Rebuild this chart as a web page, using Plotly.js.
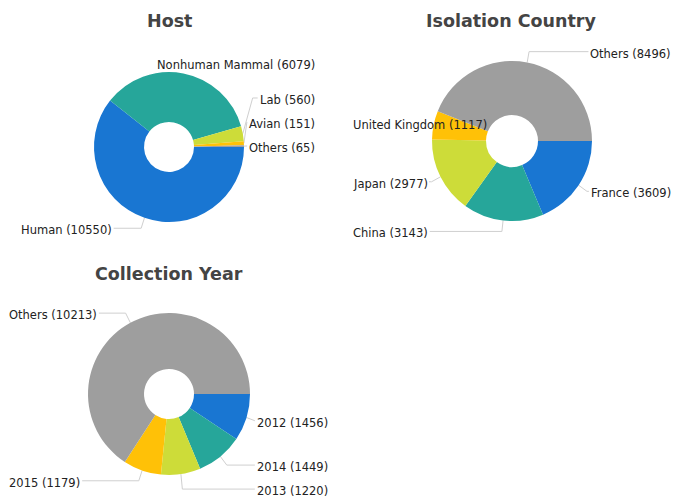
<!DOCTYPE html>
<html>
<head>
<meta charset="utf-8">
<script src="https://cdn.plot.ly/plotly-3.0.1.min.js"></script>
<style>html,body{margin:0;padding:0;background:#fff;}#chart{width:678px;height:498px;}</style>
</head>
<body>
<div id="chart"></div>
<script>
// ---- data ----
const hostLabels = ['Human', 'Nonhuman Mammal', 'Lab', 'Avian', 'Others'];
const hostValues = [10550, 6079, 560, 151, 65];
const countryLabels = ['France', 'China', 'Japan', 'United Kingdom', 'Others'];
const countryValues = [3609, 3143, 2977, 1117, 8496];
const yearLabels = ['2012', '2014', '2013', '2015', 'Others'];
const yearValues = [1456, 1449, 1220, 1179, 10213];
const sliceColors = ['#1976d2', '#26a69a', '#cddc39', '#ffc107', '#9e9e9e'];

// ---- layout ----
const W = 678, H = 498;
const FONT = 'DejaVu Sans';
const LABEL_SIZE = 11.5;
const charts = [
  {title: 'Host', labels: hostLabels, values: hostValues, cx: 169, cy: 147, r: 75, hole: 25, left: 20, right: 316, tx: 169, ty: 21},
  {title: 'Isolation Country', labels: countryLabels, values: countryValues, cx: 512, cy: 141, r: 80, hole: 26, left: 352, right: 672, tx: 511, ty: 21},
  {title: 'Collection Year', labels: yearLabels, values: yearValues, cx: 169, cy: 394, r: 81, hole: 25, left: 8, right: 329, tx: 169, ty: 274}
];

const ctx = document.createElement('canvas').getContext('2d');
ctx.font = LABEL_SIZE + 'px "' + FONT + '"';
const px = x => x / W;
const py = y => 1 - y / H;

const data = [], annotations = [], shapes = [];
const lineStyle = {color: '#cfcfcf', width: 1};

charts.forEach(c => {
  data.push({
    type: 'pie', labels: c.labels, values: c.values, sort: false,
    direction: 'clockwise', rotation: 90, hole: c.hole / c.r,
    marker: {colors: sliceColors, line: {width: 0}},
    textinfo: 'none', hoverinfo: 'label+value+percent',
    domain: {x: [px(c.cx - c.r), px(c.cx + c.r)], y: [py(c.cy + c.r), py(c.cy - c.r)]}
  });
  annotations.push({
    text: '<b>' + c.title + '</b>', x: px(c.tx), y: py(c.ty), xref: 'paper', yref: 'paper',
    xanchor: 'center', yanchor: 'middle', showarrow: false,
    font: {family: FONT, size: 17.5, color: '#444444'}
  });
  const total = c.values.reduce((a, b) => a + b, 0);
  let cum = 0;
  const items = c.values.map((v, i) => {
    const mid = (cum + v / 2) / total * 2 * Math.PI; // clockwise from 3 o'clock (screen coords)
    cum += v;
    const cos = Math.cos(mid), sin = Math.sin(mid);
    const text = c.labels[i] + ' (' + v + ')';
    return {text, cos, sin, right: cos >= 0, y0: c.cy + (c.r + 11) * sin,
      width: ctx.measureText(text).width};
  });
  // resolve overlaps per side: above centre push up, below push down
  const GAP = 24;
  [true, false].forEach(side => {
    const s = items.filter(it => it.right === side);
    const above = s.filter(it => it.y0 < c.cy).sort((a, b) => b.y0 - a.y0);
    const below = s.filter(it => it.y0 >= c.cy).sort((a, b) => a.y0 - b.y0);
    let prev = null;
    above.forEach(it => { it.y = prev === null ? it.y0 : Math.min(it.y0, prev - GAP); prev = it.y; });
    prev = null;
    below.forEach(it => { it.y = prev === null ? it.y0 : Math.max(it.y0, prev + GAP); prev = it.y; });
  });
  items.forEach(it => {
    const sx = c.cx + c.r * it.cos, sy = c.cy + c.r * it.sin;
    const ex = c.cx + (c.r + 10) * it.cos;
    let endX, elbowX, ok;
    if (it.right) {
      endX = c.right - it.width - 3;
      elbowX = Math.min(ex, endX);
      ok = endX > sx;
    } else {
      endX = c.left + it.width + 3;
      elbowX = Math.max(ex, endX);
      ok = endX < sx;
    }
    if (ok) {
      shapes.push({type: 'line', xref: 'paper', yref: 'paper', x0: px(sx), y0: py(sy), x1: px(elbowX), y1: py(it.y), line: lineStyle, layer: 'below'});
      if (Math.abs(endX - elbowX) > 0.5) {
        shapes.push({type: 'line', xref: 'paper', yref: 'paper', x0: px(elbowX), y0: py(it.y), x1: px(endX), y1: py(it.y), line: lineStyle, layer: 'below'});
      }
    }
    annotations.push({
      text: it.text, xref: 'paper', yref: 'paper',
      x: px(it.right ? c.right : c.left), xanchor: it.right ? 'right' : 'left',
      y: py(it.y + 2), yanchor: 'middle', showarrow: false, borderpad: 0,
      font: {family: FONT, size: LABEL_SIZE, color: '#222222'}
    });
  });
});

const layout = {
  width: W, height: H, margin: {l: 0, r: 0, t: 0, b: 0},
  paper_bgcolor: '#ffffff', showlegend: false,
  annotations, shapes
};
Plotly.newPlot('chart', data, layout, {displayModeBar: false});
</script>
</body>
</html>
